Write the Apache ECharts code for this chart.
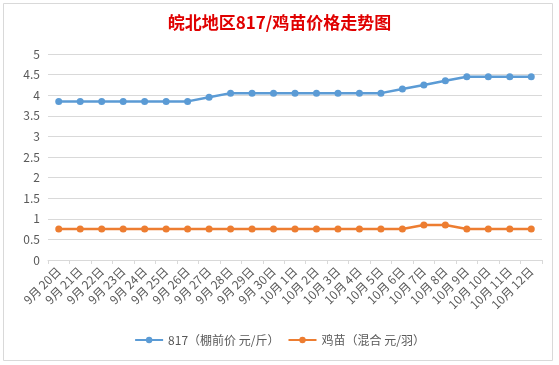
<!DOCTYPE html>
<html><head><meta charset="utf-8">
<script src="https://cdn.jsdelivr.net/npm/echarts@6/dist/echarts.min.js"></script>
<style>html,body{margin:0;padding:0;background:#fff}#c{width:559px;height:365px}</style>
</head><body><div id="c"></div>
<script>
var categories = ['9月 20日','9月 21日','9月 22日','9月 23日','9月 24日','9月 25日','9月 26日','9月 27日','9月 28日','9月 29日','9月 30日',
  '10月 1日','10月 2日','10月 3日','10月 4日','10月 5日','10月 6日','10月 7日','10月 8日','10月 9日','10月 10日','10月 11日','10月 12日'];
var price817 = [3.85,3.85,3.85,3.85,3.85,3.85,3.85,3.95,4.05,4.05,4.05,4.05,4.05,4.05,4.05,4.05,4.15,4.25,4.35,4.45,4.45,4.45,4.45];
var chickPrice = [0.75,0.75,0.75,0.75,0.75,0.75,0.75,0.75,0.75,0.75,0.75,0.75,0.75,0.75,0.75,0.75,0.75,0.85,0.85,0.75,0.75,0.75,0.75];
var seriesNames = ['817（棚前价 元/斤）','鸡苗（混合 元/羽）'];
var titleText = '皖北地区817/鸡苗价格走势图';

var chart = echarts.init(document.getElementById('c'), null, {renderer:'canvas'});
var font = '"Microsoft YaHei","Noto Sans CJK SC",sans-serif';
chart.setOption({
  animation:false,
  backgroundColor:'#fff',
  textStyle:{fontFamily:font},
  title:{text:titleText,left:'center',top:9,textStyle:{color:'#e00000',fontSize:17,fontWeight:'bold',fontFamily:font}},
  graphic:[{type:'rect',shape:{x:3.5,y:3.5,width:549,height:357},style:{fill:null,stroke:'#d9d9d9',lineWidth:1},silent:true}],
  legend:{bottom:14,left:'center',itemWidth:28,itemHeight:8,itemGap:8,
    textStyle:{color:'#595959',fontSize:12,fontFamily:font},
    data:seriesNames},
  grid:{left:48,right:17,top:54,bottom:105,containLabel:false},
  xAxis:{type:'category',data:categories,boundaryGap:true,
    axisLine:{lineStyle:{color:'#d9d9d9'}},
    axisTick:{show:true,alignWithLabel:false,lineStyle:{color:'#d9d9d9'},length:4},
    axisLabel:{rotate:45,interval:0,color:'#595959',fontSize:12,margin:9,fontFamily:font}},
  yAxis:{type:'value',min:0,max:5,interval:0.5,
    axisLine:{show:false},axisTick:{show:false},
    splitLine:{lineStyle:{color:'#d9d9d9'}},
    axisLabel:{color:'#595959',fontSize:12,margin:8,fontFamily:font}},
  series:[
    {name:seriesNames[0],type:'line',data:price817,symbol:'circle',symbolSize:7,
      lineStyle:{color:'#5b9bd5',width:2.5},itemStyle:{color:'#5b9bd5'}},
    {name:seriesNames[1],type:'line',data:chickPrice,symbol:'circle',symbolSize:7,
      lineStyle:{color:'#ed7d31',width:2.5},itemStyle:{color:'#ed7d31'}}
  ]
});
</script></body></html>
